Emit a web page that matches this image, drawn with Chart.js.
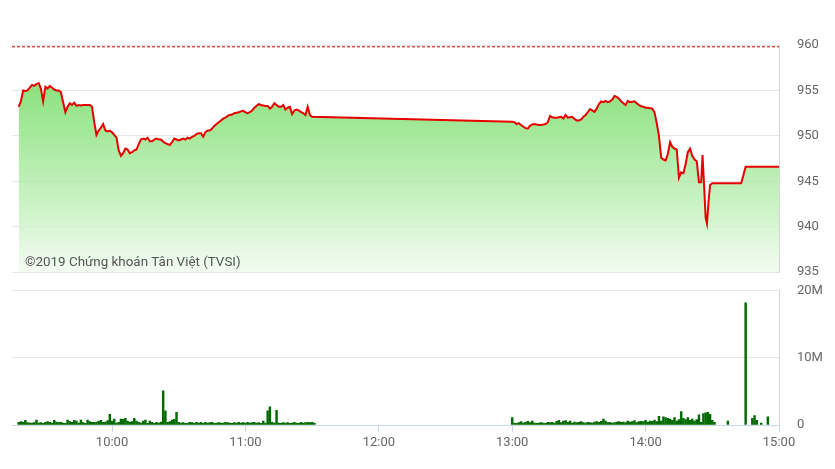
<!DOCTYPE html>
<html>
<head>
<meta charset="utf-8">
<script src="https://cdn.jsdelivr.net/npm/chart.js@4/dist/chart.umd.min.js"></script>
<style>
  body { margin: 0; background: #fff; }
  #wrap { position: relative; width: 835px; height: 469px; }
  #priceChart { position: absolute; left: 0; top: 0; }
  #volChart { position: absolute; left: 0; top: 265px; }
</style>
</head>
<body>
<div id="wrap">
  <canvas id="priceChart" width="835" height="298"></canvas>
  <canvas id="volChart" width="835" height="204"></canvas>
</div>
<script>
// x axis labels (session time)
const tickLabels = ["10:00", "11:00", "12:00", "13:00", "14:00", "15:00"];
const sessionStart = "9:15";
const sessionEnd = "15:00";

// reference price (dashed red line)
const refPrice = 959.8;

// index, one point per minute from 9:18
const priceMorningStart = "9:18";
const priceMorning = [
  953.2, 953.8, 955.0, 954.95, 955.0, 955.3, 955.6, 955.5, 955.7, 955.8,
  955.2, 953.8, 955.4, 955.2, 955.5, 955.3, 955.1, 955.0, 955.0, 954.8,
  953.7, 952.6, 953.2, 953.6, 953.4, 953.65, 953.3, 953.4, 953.35, 953.4,
  953.4, 953.4, 953.4, 953.2, 951.5, 950.1, 950.6, 950.9, 951.3, 950.6,
  950.5, 950.55, 950.4, 950.1, 949.8, 948.4, 947.8, 948.1, 948.6, 948.5,
  948.1, 948.2, 948.4, 948.5, 949.1, 949.6, 949.7, 949.6, 949.8, 949.4,
  949.4, 949.6, 949.7, 949.6, 949.6, 949.35, 949.2, 949.1, 949.0, 949.3,
  949.7, 949.6, 949.5, 949.6, 949.7, 949.6, 949.8, 949.7, 949.9, 950.0,
  950.2, 950.3, 950.3, 949.9, 950.4, 950.6, 950.6, 950.8, 951.1, 951.3,
  951.5, 951.7, 951.9, 952.0, 952.2, 952.3, 952.35, 952.5, 952.55, 952.6,
  952.7, 952.75, 952.6, 952.5, 952.6, 952.8, 953.1, 953.3, 953.5, 953.4,
  953.35, 953.3, 953.3, 953.0, 953.2, 953.6, 953.4, 953.2, 953.2, 953.4,
  952.9, 953.1, 953.2, 952.4, 952.8, 952.9, 952.8, 952.6, 952.5, 952.3,
  953.2, 952.3, 952.1
];

// index, one point per minute from 13:00
const priceAfternoonStart = "13:00";
const priceAfternoon = [
  951.55, 951.5, 951.3, 951.4, 951.2, 951.0, 950.85, 950.8, 951.1, 951.25,
  951.3, 951.25, 951.2, 951.2, 951.25, 951.3, 951.5, 952.2, 952.05, 952.0,
  952.0, 952.05, 952.1, 951.9, 952.3, 952.0, 952.05, 952.1, 951.85, 951.7,
  951.7, 951.8, 952.1, 952.3, 952.6, 952.95, 952.8, 952.65, 953.0, 953.5,
  953.8, 953.7, 953.85, 953.7, 953.8, 954.0, 954.4, 954.3, 954.1, 953.8,
  953.6, 953.4, 953.85, 953.7, 953.75, 953.8, 953.6, 953.4, 953.25, 953.2,
  953.1, 953.1, 953.05, 953.0, 952.6, 951.4, 950.0, 947.6, 947.4, 947.3,
  948.0, 949.3, 948.8, 948.6, 948.5, 945.4, 946.0, 945.9, 946.9, 948.2,
  948.6, 947.8, 947.4, 947.2, 944.9, 944.9
];

// last ticks and the close
const priceTailTimes = ["14:25:36", "14:26:18", "14:27", "14:27:36", "14:28:18", "14:29", "14:30", "14:43", "14:45", "15:00"];
const priceTailValues = [947.9, 944.6, 941.0, 940.35, 942.75, 944.6, 944.8, 944.8, 946.6, 946.6];

// volume in millions, one bar per minute
const volMorningStart = "9:18";
const volMorning = [
  0.4, 0.5, 0.4, 0.7, 0.35, 0.3, 0.3, 0.35, 0.75, 0.3,
  0.35, 0.25, 0.4, 0.5, 0.4, 0.3, 0.7, 0.45, 0.35, 0.4,
  0.3, 0.25, 0.75, 0.5, 0.4, 0.7, 0.6, 0.3, 0.75, 0.35,
  0.25, 0.75, 0.5, 0.4, 0.4, 0.45, 0.6, 0.7, 0.4, 0.45,
  0.65, 1.6, 0.6, 0.9, 0.3, 0.4, 0.9, 0.85, 1.0, 0.6,
  0.45, 0.5, 1.0, 0.6, 0.4, 0.3, 0.6, 0.75, 0.25, 0.6,
  0.4, 0.25, 0.4, 0.3, 0.45, 5.1, 2.1, 0.4, 0.5, 0.75,
  0.85, 1.9, 0.4, 0.3, 0.35, 0.25, 0.3, 0.4, 0.35, 0.3,
  0.4, 0.3, 0.4, 0.25, 0.4, 0.3, 0.35, 0.4, 0.25, 0.3,
  0.35, 0.3, 0.3, 0.4, 0.35, 0.3, 0.25, 0.35, 0.3, 0.4,
  0.3, 0.35, 0.3, 0.4, 0.3, 0.35, 0.4, 0.3, 0.35, 0.25,
  0.6, 0.3, 2.1, 2.7, 0.4, 0.3, 2.2, 0.3, 0.25, 0.35,
  0.3, 0.35, 0.25, 0.3, 0.4, 0.3, 0.25, 0.4, 0.3, 0.35,
  0.4, 0.35, 0.4, 0.3
];
const volAfternoonStart = "13:00";
const volAfternoon = [
  1.1, 0.3, 0.25, 0.35, 0.5, 0.3, 0.4, 0.55, 0.35, 0.6,
  0.3, 0.25, 0.3, 0.35, 0.3, 0.25, 0.4, 0.35, 0.4, 0.3,
  0.55, 0.7, 0.35, 0.6, 0.65, 0.4, 0.6, 0.3, 0.45, 0.35,
  0.4, 0.5, 0.35, 0.3, 0.4, 0.35, 0.3, 0.45, 0.5, 0.4,
  0.55, 0.9, 0.6, 0.35, 0.4, 0.3, 0.35, 0.45, 0.5, 0.4,
  0.45, 0.35, 0.6, 0.45, 0.5, 0.65, 0.35, 0.5, 0.55, 0.5,
  0.7, 0.45, 0.6, 0.55, 0.75, 0.5, 1.3, 0.6, 1.2, 1.1,
  1.0, 0.9, 0.7, 1.1, 0.6, 0.8, 2.0, 1.0, 0.8, 1.1,
  0.7, 0.9, 0.6, 0.8, 1.5, 0.4, 1.7, 1.8, 1.9, 1.6, 0.7, 0.4
];
const volLateTimes = ["14:37", "14:45", "14:48", "14:49", "14:50", "14:52", "14:55"];
const volLateValues = [0.6, 18.2, 1.0, 1.4, 0.7, 0.3, 1.2];

// minutes after 9:00
function toMin(t) {
  const p = t.split(":").map(Number);
  return (p[0] - 9) * 60 + p[1] + (p[2] || 0) / 60;
}
function fmtMin(m) {
  const h = 9 + Math.floor(m / 60);
  const mm = Math.round(m % 60);
  return String(h).padStart(2, "0") + ":" + String(mm).padStart(2, "0");
}

const xMin = toMin(sessionStart);
const xMax = toMin(sessionEnd);
const tickMinutes = tickLabels.map(toMin);

const pricePoints = [];
priceMorning.forEach((v, i) => pricePoints.push({ x: toMin(priceMorningStart) + i, y: v }));
priceAfternoon.forEach((v, i) => pricePoints.push({ x: toMin(priceAfternoonStart) + i, y: v }));
priceTailTimes.forEach((t, i) => pricePoints.push({ x: toMin(t), y: priceTailValues[i] }));

const volPoints = [];
volMorning.forEach((v, i) => volPoints.push({ x: toMin(volMorningStart) + i, y: v }));
volAfternoon.forEach((v, i) => volPoints.push({ x: toMin(volAfternoonStart) + i, y: v }));
volLateTimes.forEach((t, i) => volPoints.push({ x: toMin(t), y: volLateValues[i] }));

const axisFont = { family: "Roboto", size: 13 };
const labelColor = "#666";
const gridColor = "#e6e6e6";
const borderColor = "#d6d6d6";

const watermark = {
  id: "watermark",
  afterDatasetsDraw(chart) {
    const ctx = chart.ctx;
    ctx.save();
    ctx.font = "13.4px Roboto";
    ctx.fillStyle = "#555";
    ctx.textBaseline = "middle";
    ctx.fillText("©2019 Chứng khoán Tân Việt (TVSI)", chart.chartArea.left + 13, chart.chartArea.bottom - 10);
    ctx.restore();
  }
};

new Chart(document.getElementById("priceChart"), {
  type: "line",
  data: {
    datasets: [
      {
        data: pricePoints,
        borderColor: "#e60000",
        borderWidth: 2,
        pointRadius: 0,
        tension: 0,
        fill: "start",
        backgroundColor: (context) => {
          const area = context.chart.chartArea;
          if (!area) return "rgba(120,220,110,0.6)";
          const g = context.chart.ctx.createLinearGradient(0, area.top + 38, 0, area.bottom);
          g.addColorStop(0, "rgba(118,220,102,0.85)");
          g.addColorStop(0.55, "rgba(178,236,170,0.8)");
          g.addColorStop(1, "rgba(240,251,238,0.8)");
          return g;
        },
      },
      {
        data: [{ x: xMin, y: refPrice }, { x: xMax, y: refPrice }],
        borderColor: "#cc0000",
        borderWidth: 1,
        borderDash: [3, 2],
        pointRadius: 0,
        fill: false,
      },
    ],
  },
  options: {
    responsive: false,
    animation: false,
    layout: { padding: { left: 12, top: 45, bottom: 0, right: 0 } },
    plugins: { legend: { display: false }, tooltip: { enabled: false } },
    scales: {
      x: { type: "linear", min: xMin, max: xMax, display: false },
      y: {
        position: "right",
        min: 935,
        max: 960,
        afterFit: (scale) => { scale.width = 56; },
        ticks: { stepSize: 5, color: labelColor, font: axisFont, padding: 18 },
        grid: { color: gridColor, drawTicks: false },
        border: { display: true, color: borderColor },
      },
    },
  },
  plugins: [watermark],
});

new Chart(document.getElementById("volChart"), {
  type: "bar",
  data: {
    datasets: [
      {
        data: volPoints,
        backgroundColor: "#006a00",
        barThickness: 1.8,
      },
    ],
  },
  options: {
    responsive: false,
    animation: false,
    layout: { padding: { left: 12, top: 0, bottom: 0, right: 0 } },
    plugins: { legend: { display: false }, tooltip: { enabled: false } },
    scales: {
      x: {
        type: "linear",
        min: xMin,
        max: xMax,
        offset: false,
        afterFit: (scale) => { scale.height = 44; },
        afterBuildTicks: (scale) => { scale.ticks = tickMinutes.map((v) => ({ value: v })); },
        ticks: { color: labelColor, font: axisFont, padding: 3, maxRotation: 0, callback: (v) => fmtMin(v) },
        grid: { drawOnChartArea: false, drawTicks: true, tickLength: 7, tickColor: "#ccd6eb", offset: false },
        border: { display: true, color: "#ccd6eb" },
      },
      y: {
        position: "right",
        min: 0,
        max: 20,
        afterFit: (scale) => { scale.width = 56; },
        ticks: { stepSize: 10, color: labelColor, font: axisFont, padding: 18, callback: (v) => (v === 0 ? "0" : v + "M") },
        grid: { color: gridColor, drawTicks: false },
        border: { display: true, color: borderColor },
      },
    },
  },
});
</script>
</body>
</html>
